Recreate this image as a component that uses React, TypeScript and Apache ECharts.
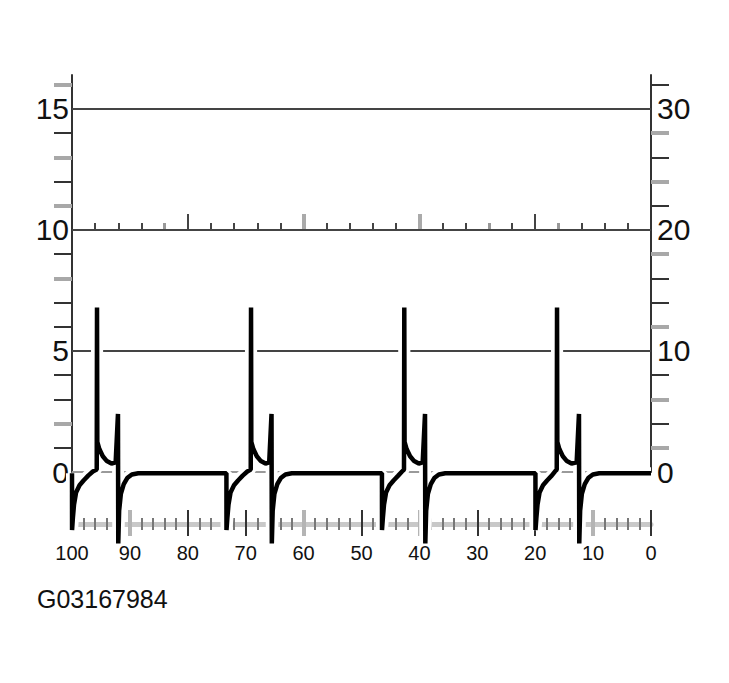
import { useEffect, useRef } from 'react'
import * as echarts from 'echarts'

// waveform as [x, value] pairs (x axis runs 100 -> 0)
const cycle1: [number, number][] = [
  [100, -0.05], [99.99, -2.4], [99.85, -1.9], [99.65, -1.35], [99.3, -0.85], [98.7, -0.55],
  [98.0, -0.35], [97.2, -0.15], [96.4, 0.02], [95.73, 0.1], [95.68, 6.8], [95.63, 1.25],
  [95.28, 0.95], [94.68, 0.65], [93.98, 0.45], [93.18, 0.35], [92.46, 0.4], [92.06, 2.4],
  [92.01, -2.95], [91.86, -1.6], [91.56, -0.9], [91.06, -0.5], [90.46, -0.25], [89.66, -0.1],
  [88.56, -0.05],
]
const cycle2: [number, number][] = [
  [73.33, -0.05], [73.32, -2.4], [73.17, -1.9], [72.97, -1.35], [72.62, -0.85], [72.02, -0.55],
  [71.32, -0.35], [70.52, -0.15], [69.72, 0.02], [69.13, 0.1], [69.08, 6.8], [69.03, 1.25],
  [68.68, 0.95], [68.08, 0.65], [67.38, 0.45], [66.58, 0.35], [65.94, 0.4], [65.54, 2.4],
  [65.49, -2.95], [65.34, -1.6], [65.04, -0.9], [64.54, -0.5], [63.94, -0.25], [63.14, -0.1],
  [62.04, -0.05],
]
const cycle3: [number, number][] = [
  [46.47, -0.05], [46.46, -2.4], [46.31, -1.9], [46.11, -1.35], [45.76, -0.85], [45.16, -0.55],
  [44.46, -0.35], [43.66, -0.15], [43.0, 0.02], [42.66, 0.1], [42.61, 6.8], [42.56, 1.25],
  [42.21, 0.95], [41.61, 0.65], [40.91, 0.45], [40.11, 0.35], [39.43, 0.4], [39.03, 2.4],
  [38.98, -2.95], [38.83, -1.6], [38.53, -0.9], [38.03, -0.5], [37.43, -0.25], [36.63, -0.1],
  [35.53, -0.05],
]
const cycle4: [number, number][] = [
  [19.96, -0.05], [19.95, -2.4], [19.8, -1.9], [19.6, -1.35], [19.25, -0.85], [18.65, -0.55],
  [17.95, -0.35], [17.15, -0.15], [16.6, 0.02], [16.28, 0.1], [16.23, 6.8], [16.18, 1.25],
  [15.83, 0.95], [15.23, 0.65], [14.53, 0.45], [13.73, 0.35], [12.84, 0.4], [12.44, 2.4],
  [12.39, -2.95], [12.24, -1.6], [11.94, -0.9], [11.44, -0.5], [10.84, -0.25], [10.04, -0.1],
  [8.94, -0.05], [0, -0.05],
]

const xLabels = [100, 90, 80, 70, 60, 50, 40, 30, 20, 10, 0]
const leftLabels = [0, 5, 10, 15]
const rightLabels = [0, 10, 20, 30]
const leftDarkTicks = [1, 3, 4, 6, 7, 9, 12, 14]
const leftGrayTicks = [2, 8, 11, 13, 16]
const rightDarkTicks = [4, 8, 14, 16, 22, 26, 32]
const rightGrayTicks = [2, 6, 12, 18, 24, 28]
const baseMinorTicks = [
  98, 96, 94, 92, 88, 86, 84, 82, 78, 76, 74, 72, 68, 66, 64, 62, 58, 56, 54, 52,
  48, 46, 44, 42, 38, 36, 34, 32, 28, 26, 24, 22, 18, 16, 14, 12, 8, 6, 4, 2,
]
const baseMajorDark = [80, 70, 50, 30, 20, 0]
const baseMajorGray = [90, 60, 40, 10]
const refSmallDark = [96, 92, 88, 76, 72, 68, 64, 56, 52, 48, 44, 36, 32, 24, 12, 8, 4]
const refSmallGray = [84, 28, 16]
const refTallDark = [80, 20]
const refTallGray = [60, 40]
const gridLevels = [5, 10, 15]
const figureCode = 'G03167984'

const FONT = 'Liberation Sans, Arial, sans-serif'
const Y_MAX = 16.4

const tickX = (position: string, offset: number, values: number[], length: number, color: string, width: number, inside = false) => ({
  type: 'value', min: 0, max: 100, inverse: true, position, offset,
  axisLine: { show: false, onZero: false },
  axisTick: { show: true, inside, length, customValues: values, lineStyle: { color, width } },
  axisLabel: { show: false },
  splitLine: { show: false },
})

const tickY = (position: string, max: number, values: number[], color: string, width: number) => ({
  type: 'value', min: 0, max, position,
  axisLine: { show: false, onZero: false },
  axisTick: { show: true, length: 18, customValues: values, lineStyle: { color, width } },
  axisLabel: { show: false },
  splitLine: { show: false },
})

export default function App() {
  const chartRef = useRef<HTMLDivElement>(null)

  useEffect(() => {
    if (!chartRef.current) return
    const chart = echarts.init(chartRef.current, undefined, { renderer: 'svg' })
    const wave = [...cycle1, ...cycle2, ...cycle3, ...cycle4]

    chart.setOption({
      animation: false,
      backgroundColor: '#fff',
      title: {
        text: figureCode, left: 37, top: 586, padding: 0,
        textStyle: { fontSize: 25, fontWeight: 'normal', color: '#111', fontFamily: FONT },
      },
      grid: { left: 72, right: 78, top: 75, bottom: 211, containLabel: false, outerBoundsMode: 'none' },
      xAxis: [
        {
          type: 'value', min: 0, max: 100, inverse: true, position: 'bottom', offset: 52,
          axisLine: { show: true, onZero: false, lineStyle: { color: '#c8c8c8', width: 5 } },
          axisTick: { show: false },
          axisLabel: { customValues: xLabels, fontSize: 20, color: '#111', margin: 19, fontFamily: FONT },
          splitLine: { show: false },
        },
        tickX('bottom', 58, baseMinorTicks, 12, '#777', 2, true),
        tickX('bottom', 64, baseMajorDark, 26, '#333', 2, true),
        tickX('bottom', 64, baseMajorGray, 26, '#b4b4b4', 4, true),
        tickX('top', -155, refSmallDark, 7, '#444', 2),
        tickX('top', -155, refSmallGray, 7, '#999', 3),
        tickX('top', -155, refTallDark, 16, '#444', 2),
        tickX('top', -155, refTallGray, 16, '#aaa', 4),
      ],
      yAxis: [
        {
          type: 'value', min: 0, max: Y_MAX, position: 'left',
          axisLine: { show: true, onZero: false, lineStyle: { color: '#333', width: 2 } },
          axisTick: { show: false },
          axisLabel: { customValues: leftLabels, fontSize: 30, color: '#111', margin: 3, fontFamily: FONT },
          splitLine: { show: false },
        },
        {
          type: 'value', min: 0, max: Y_MAX * 2, position: 'right',
          axisLine: { show: true, onZero: false, lineStyle: { color: '#333', width: 2 } },
          axisTick: { show: false },
          axisLabel: { customValues: rightLabels, fontSize: 30, color: '#111', margin: 6, fontFamily: FONT },
          splitLine: { show: false },
        },
        tickY('left', Y_MAX, leftDarkTicks, '#333', 2),
        tickY('left', Y_MAX, leftGrayTicks, '#a8a8a8', 4),
        tickY('right', Y_MAX * 2, rightDarkTicks, '#333', 2),
        tickY('right', Y_MAX * 2, rightGrayTicks, '#a8a8a8', 4),
      ],
      series: [
        {
          // reference lines
          type: 'line', data: [], xAxisIndex: 0, yAxisIndex: 0, z: 1,
          markLine: {
            silent: true, symbol: 'none', z: 1, animation: false,
            label: { show: false },
            lineStyle: { color: '#444', width: 2, type: 'solid' },
            data: [
              ...gridLevels.map((v) => ({ yAxis: v })),
              { yAxis: 0, lineStyle: { color: '#9a9a9a', width: 2, type: 'solid' } },
            ],
          },
        },
        {
          // white halo under the trace
          type: 'line', data: wave, xAxisIndex: 0, yAxisIndex: 0, z: 10,
          clip: false, showSymbol: false, symbol: 'none', silent: true,
          lineStyle: { color: '#fff', width: 12, join: 'bevel' },
        },
        {
          type: 'line', data: wave, xAxisIndex: 0, yAxisIndex: 0, z: 11,
          clip: false, showSymbol: false, symbol: 'none',
          lineStyle: { color: '#000', width: 4.5, join: 'bevel' },
        },
      ],
    })

    return () => chart.dispose()
  }, [])

  return <div ref={chartRef} style={{ position: 'fixed', left: 0, top: 0, width: 729, height: 683 }} />
}
